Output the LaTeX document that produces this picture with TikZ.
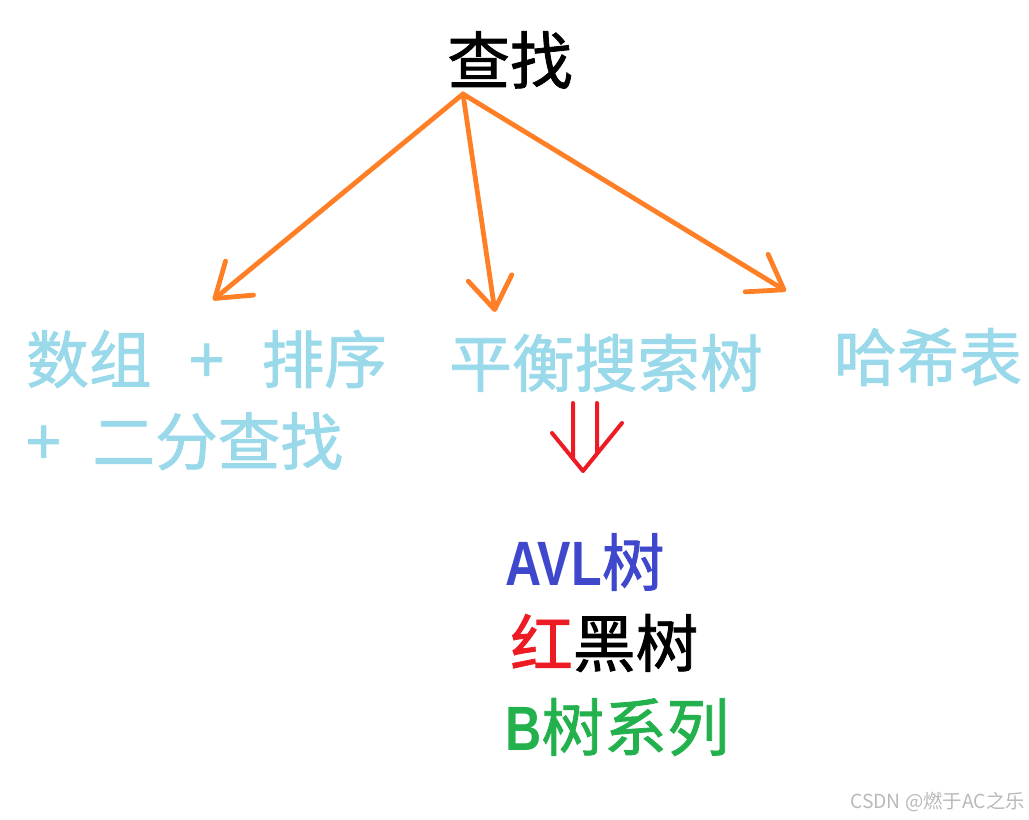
\documentclass[tikz,border=0pt]{standalone}
\usepackage{fontspec}
\setmainfont{Noto Sans CJK SC}
\newfontfamily\heavyfont{Noto Sans CJK SC}[FakeBold=1.3]
\newfontfamily\latinfont{Liberation Sans}[FakeStretch=0.8]
\usetikzlibrary{arrows.meta, positioning}
\definecolor{paintorange}{RGB}{255,127,39}
\definecolor{paintcyan}{RGB}{153,217,234}
\definecolor{paintindigo}{RGB}{63,72,204}
\definecolor{paintred}{RGB}{237,28,36}
\definecolor{paintgreen}{RGB}{34,177,76}

\begin{document}
\begin{tikzpicture}[x=0.75pt, y=-0.75pt,
    every node/.style={inner sep=0pt, font=\heavyfont\fontsize{47}{61.5}\selectfont},
    pick/.style={draw=paintorange, line width=3.6pt, line cap=round, line join=round,
        -{Straight Barb[round, length=24pt, width=33pt]}},
    choice/.style={text=paintcyan},
    implied/.style={draw=paintred, line width=3pt, line cap=round, line join=round}]
    \useasboundingbox (0,0) rectangle (1029,820);

    \node (root) at (510,60) {查找};
    \node[choice, anchor=west, align=left] (sorted) at (26,400)
        {数组\hspace{0.6em}+\hspace{0.6em}排序\\+\hspace{0.5em}二分查找};
    \node[choice] (balanced) at (606,363) {平衡搜索树};
    \node[choice] (hash) at (928,357) {哈希表};

    \coordinate (fork) at (463,94);
    \coordinate (tosorted) at (213,300);
    \coordinate (tobalanced) at (495,312);
    \coordinate (tohash) at (786,291);
    \draw[pick] (fork) -- (tosorted);
    \draw[pick] (fork) -- (tobalanced);
    \draw[pick] (fork) -- (tohash);

    % hand drawn double arrow
    \draw[implied] (573,403) -- (573,458) (597,403) -- (597,452)
        (552,433) -- (583,471) -- (622,423);

    \node[anchor=west] (avl) at (505,562)
        {\textcolor{paintindigo}{{\latinfont\bfseries AVL}树}};
    \node[anchor=west] (redblack) at (510,643) {\textcolor{paintred}{红}黑树};
    \node[anchor=west] (btree) at (505,727)
        {\textcolor{paintgreen}{{\latinfont\bfseries B}树系列}};

    \node[anchor=east, font=\fontsize{14.5}{16}\selectfont, text=gray!55] (mark)
        at (1025,802) {CSDN @燃于AC之乐};
\end{tikzpicture}
\end{document}
